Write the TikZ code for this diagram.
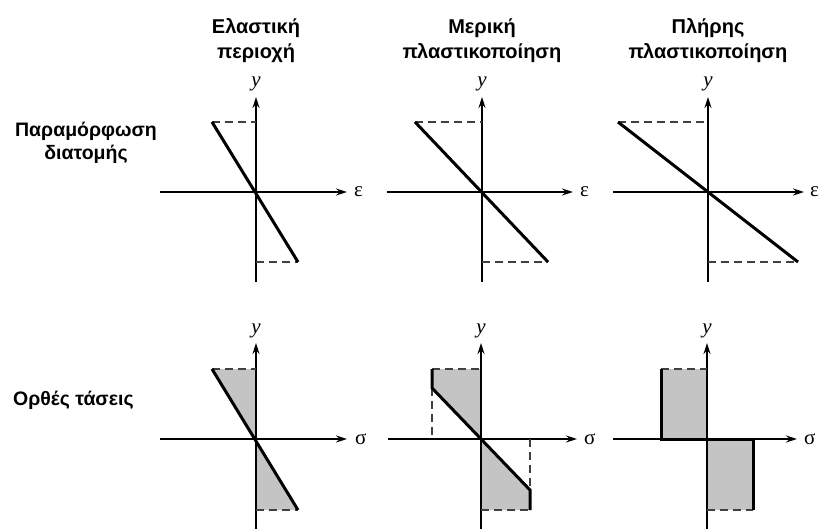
\documentclass[tikz,border=0pt]{standalone}
\usepackage{fontspec}
\setmainfont{Liberation Sans}
\newfontfamily\seriffam{Liberation Serif}
\usetikzlibrary{arrows.meta}
\begin{document}
\begin{tikzpicture}[x=1pt,y=-1pt,
  axis/.style={line width=1.4pt,-{Stealth[length=11pt,width=7pt]}},
  guide/.style={line width=1.4pt,dash pattern=on 8pt off 5pt,draw=black!75},
  curve/.style={line width=3pt,line join=miter,line cap=butt},
  zone/.style={fill=black!23},
  title/.style={font=\fontsize{20}{20}\selectfont\bfseries,align=center,inner sep=0pt},
  rowlab/.style={font=\fontsize{19.5}{22}\selectfont\bfseries,align=center,inner sep=0pt},
  axlabel/.style={font=\fontsize{21}{21}\selectfont\seriffam,inner sep=0pt},
  ylab/.style={font=\fontsize{21}{21}\selectfont\seriffam\itshape,inner sep=0pt,anchor=base},
]
\useasboundingbox (0,0) rectangle (819,529);

% ---------- titles ----------
\node[title,anchor=base] (t1a) at (256,34) {Ελαστική};
\node[title,anchor=base] (t1b) at (256,58.5) {περιοχή};
\node[title,anchor=base] (t2a) at (482,34) {Μερική};
\node[title,anchor=base] (t2b) at (482,58.5) {πλαστικοποίηση};
\node[title,anchor=base] (t3a) at (708,34) {Πλήρης};
\node[title,anchor=base] (t3b) at (708,58.5) {πλαστικοποίηση};

\node[rowlab,anchor=base] (r1a) at (86,137) {Παραμόρφωση};
\node[rowlab,anchor=base] (r1b) at (86,160) {διατομής};
\node[rowlab,anchor=base west] (r2) at (13,405) {Ορθές τάσεις};

% ================= TOP ROW (strain) =================
% panel 1
\coordinate (A1L) at (160,192); \coordinate (A1R) at (347,192);
\coordinate (A1B) at (256,282); \coordinate (A1T) at (256,97);
\coordinate (P1t) at (212,122); \coordinate (Q1t) at (256,122);
\coordinate (P1b) at (298,262); \coordinate (Q1b) at (256,262);
\draw[axis] (A1L) -- (A1R);
\draw[axis] (A1B) -- (A1T);
\draw[guide] (P1t) -- (Q1t);
\draw[guide] (Q1b) -- (P1b);
\draw[curve] (P1t) -- (P1b);
\node[axlabel,anchor=west] (e1) at (354,192) {ε};
\node[ylab] (y1) at (256,87) {y};

% panel 2
\coordinate (A2L) at (387,192); \coordinate (A2R) at (573,192);
\coordinate (A2B) at (482,282); \coordinate (A2T) at (482,97);
\coordinate (P2t) at (415,122); \coordinate (Q2t) at (482,122);
\coordinate (P2b) at (548,262); \coordinate (Q2b) at (482,262);
\draw[axis] (A2L) -- (A2R);
\draw[axis] (A2B) -- (A2T);
\draw[guide] (P2t) -- (Q2t);
\draw[guide] (Q2b) -- (P2b);
\draw[curve] (P2t) -- (P2b);
\node[axlabel,anchor=west] (e2) at (580,192) {ε};
\node[ylab] (y2) at (482,87) {y};

% panel 3
\coordinate (A3L) at (613,192); \coordinate (A3R) at (804,192);
\coordinate (A3B) at (708,282); \coordinate (A3T) at (708,97);
\coordinate (P3t) at (618,122); \coordinate (Q3t) at (708,122);
\coordinate (P3b) at (798,262); \coordinate (Q3b) at (708,262);
\draw[axis] (A3L) -- (A3R);
\draw[axis] (A3B) -- (A3T);
\draw[guide] (P3t) -- (Q3t);
\draw[guide] (Q3b) -- (P3b);
\draw[curve] (P3t) -- (P3b);
\node[axlabel,anchor=west] (e3) at (810,192) {ε};
\node[ylab] (y3) at (708,87) {y};

% ================= BOTTOM ROW (stress) =================
% panel 1
\coordinate (B1L) at (160,439); \coordinate (B1R) at (347,439);
\coordinate (B1B) at (256,529); \coordinate (B1T) at (256,343);
\coordinate (O4) at (256,439);
\coordinate (S1t) at (212,369); \coordinate (U1t) at (256,369);
\coordinate (S1b) at (298,510); \coordinate (U1b) at (256,510);
\fill[zone] (S1t) -- (U1t) -- (O4) -- cycle;
\fill[zone] (O4) -- (U1b) -- (S1b) -- cycle;
\draw[axis] (B1L) -- (B1R);
\draw[axis] (B1B) -- (B1T);
\draw[guide] (S1t) -- (U1t);
\draw[guide] (U1b) -- (S1b);
\draw[curve] (S1t) -- (S1b);
\node[axlabel,anchor=west] (s1) at (355,439) {σ};
\node[ylab] (y4) at (256,333) {y};

% panel 2
\coordinate (B2L) at (388,439); \coordinate (B2R) at (577,439);
\coordinate (B2B) at (481,529); \coordinate (B2T) at (481,343);
\coordinate (O5) at (481,439);
\coordinate (S2t) at (432,369); \coordinate (U2t) at (481,369);
\coordinate (K2t) at (432,388); \coordinate (H2t) at (432,439);
\coordinate (S2b) at (530,510); \coordinate (U2b) at (481,510);
\coordinate (K2b) at (530,490); \coordinate (H2b) at (530,439);
\fill[zone] (S2t) -- (U2t) -- (O5) -- (K2t) -- cycle;
\fill[zone] (O5) -- (U2b) -- (S2b) -- (K2b) -- cycle;
\draw[axis] (B2L) -- (B2R);
\draw[axis] (B2B) -- (B2T);
\draw[guide] (S2t) -- (U2t);
\draw[guide] (U2b) -- (S2b);
\draw[guide] (K2t) -- (H2t);
\draw[guide] (H2b) -- (K2b);
\draw[curve] (S2t) -- (K2t) -- (K2b) -- (S2b);
\node[axlabel,anchor=west] (s2) at (584,439) {σ};
\node[ylab] (y5) at (481,333) {y};

% panel 3
\coordinate (B3L) at (613,439); \coordinate (B3R) at (797,439);
\coordinate (B3B) at (707,529); \coordinate (B3T) at (707,343);
\coordinate (O6) at (707,439);
\coordinate (S3t) at (661,369); \coordinate (U3t) at (707,369);
\coordinate (K3) at (661,439); \coordinate (H3) at (753,439);
\coordinate (S3b) at (753,510); \coordinate (U3b) at (707,510);
\fill[zone] (S3t) rectangle (O6);
\fill[zone] (O6) rectangle (S3b);
\draw[axis] (B3L) -- (B3R);
\draw[axis] (B3B) -- (B3T);
\draw[guide] (S3t) -- (U3t);
\draw[guide] (U3b) -- (S3b);
\draw[curve] (S3t) -- (K3) -- (H3) -- (S3b);
\node[axlabel,anchor=west] (s3) at (804,439) {σ};
\node[ylab] (y6) at (707,333) {y};
\end{tikzpicture}
\end{document}
